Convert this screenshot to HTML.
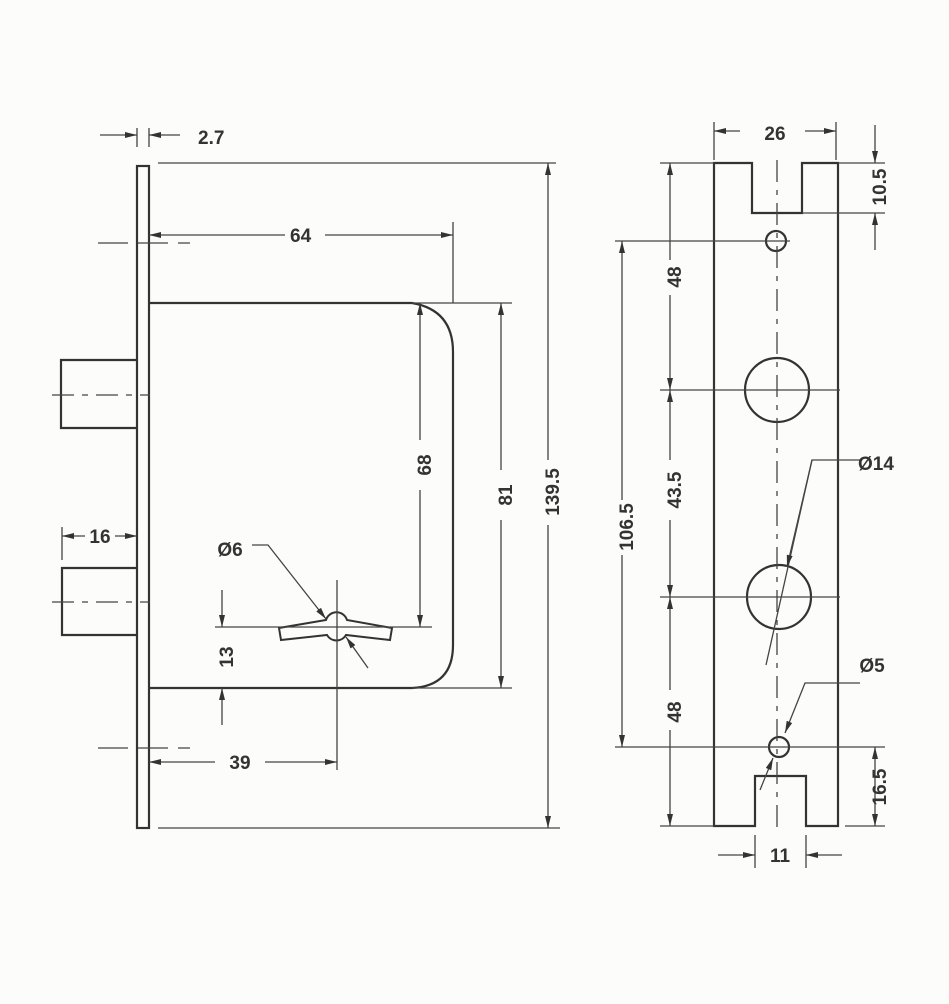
<!DOCTYPE html>
<html><head><meta charset="utf-8"><style>
html,body{margin:0;padding:0;background:#fcfcfb;}
svg{display:block}
text{font-family:"Liberation Sans",sans-serif;font-weight:bold;font-size:19px;fill:#333;}
</style></head><body>
<svg width="949" height="1004" viewBox="0 0 949 1004" xmlns="http://www.w3.org/2000/svg">
<defs>
<marker id="a" viewBox="0 0 12 6" refX="12" refY="3" markerWidth="12" markerHeight="6" orient="auto-start-reverse" markerUnits="userSpaceOnUse">
<path d="M0,0 L12,3 L0,6 z" fill="#333"/></marker>
</defs>
<g stroke="#333" fill="none" stroke-width="2.2">
<!-- faceplate -->
<rect x="137" y="166" width="12" height="662"/>
<!-- case -->
<path d="M149,303 H412 Q453,310 453,352 V645 Q453,686 412,688 H149"/>
<!-- bolts -->
<path d="M137,360 H61 V428 H137"/>
<path d="M137,568 H62 V635 H137"/>
<!-- keyhole -->
<path d="M326,620 A11,11 0 0 1 347,620 L392,628 L390,640 L346,635 A11,11 0 0 1 327,635 L281,640 L279,628 Z" stroke-width="2"/>
<!-- right view -->
<path d="M714,163 H752 V213 H802 V163 H838 V826 H806 V776 H755 V826 H714 Z"/>
<circle cx="776" cy="241" r="10"/>
<circle cx="777" cy="390" r="32"/>
<circle cx="779" cy="597" r="32"/>
<circle cx="779" cy="747" r="10"/>
</g>
<g stroke="#444" fill="none" stroke-width="1.3">
<!-- centerlines -->
<path d="M52,395 H150 M52,602 H150" stroke-dasharray="22,8,6,8"/>
<path d="M98,243 H190 M98,748 H190" stroke-dasharray="30,10"/>
<path d="M777,160 V830" stroke-dasharray="22,8,5,8"/>
<!-- 2.7 -->
<path d="M137,128 V147 M149,128 V147"/>
<path d="M100,135 H137" marker-end="url(#a)"/>
<path d="M180,135 H149" marker-end="url(#a)"/>
<!-- 64 -->
<path d="M453,222 V303"/>
<path d="M285,235 H149" marker-end="url(#a)"/>
<path d="M325,235 H453" marker-end="url(#a)"/>
<!-- 68 -->
<path d="M420,440 V303" marker-end="url(#a)"/>
<path d="M420,490 V627" marker-end="url(#a)"/>
<path d="M215,627 H432"/>
<!-- 81 -->
<path d="M412,303 H512 M412,688 H512"/>
<path d="M501,470 V303" marker-end="url(#a)"/>
<path d="M501,520 V688" marker-end="url(#a)"/>
<!-- 139.5 -->
<path d="M158,163 H556 M158,828 H560"/>
<path d="M548,460 V163" marker-end="url(#a)"/>
<path d="M548,525 V828" marker-end="url(#a)"/>
<!-- 13 -->
<path d="M222,590 V627" marker-end="url(#a)"/>
<path d="M222,725 V688" marker-end="url(#a)"/>
<!-- 39 -->
<path d="M337,580 V770"/>
<path d="M215,762 H149" marker-end="url(#a)"/>
<path d="M265,762 H337" marker-end="url(#a)"/>
<!-- 16 -->
<path d="M62,527 V560"/>
<path d="M85,536 H62" marker-end="url(#a)"/>
<path d="M115,536 H137" marker-end="url(#a)"/>
<!-- Ø6 -->
<path d="M252,545 H268 L326,619" marker-end="url(#a)"/>
<path d="M368,668 L346,637" marker-end="url(#a)"/>
<!-- right dims -->
<path d="M714,122 V160 M836,122 V160"/>
<path d="M740,131 H714" marker-end="url(#a)"/>
<path d="M805,131 H836" marker-end="url(#a)"/>
<path d="M660,163 H714 M802,213 H885 M838,163 H885"/>
<path d="M875,125 V163" marker-end="url(#a)"/>
<path d="M875,250 V213" marker-end="url(#a)"/>
<path d="M615,241 H790 M660,390 H840 M660,597 H840 M615,747 H885 M660,826 H714 M845,826 H885"/>
<path d="M875,790 V747" marker-end="url(#a)"/>
<path d="M875,826 V826"/>
<path d="M875,790 V826" marker-end="url(#a)"/>
<path d="M622,500 V241" marker-end="url(#a)"/>
<path d="M622,555 V747" marker-end="url(#a)"/>
<path d="M670,260 V163" marker-end="url(#a)"/>
<path d="M670,295 V390" marker-end="url(#a)"/>
<path d="M670,460 V390" marker-end="url(#a)"/>
<path d="M670,520 V597" marker-end="url(#a)"/>
<path d="M670,690 V597" marker-end="url(#a)"/>
<path d="M670,730 V826" marker-end="url(#a)"/>
<path d="M755,835 V868 M806,835 V868"/>
<path d="M718,855 H755" marker-end="url(#a)"/>
<path d="M842,855 H806" marker-end="url(#a)"/>
<!-- Ø14 leader -->
<path d="M860,460 H812 L766,665"/>
<path d="M812,460 L787,567" marker-end="url(#a)"/>
<!-- Ø5 leader -->
<path d="M860,683 H805 L785,733" marker-end="url(#a)"/>
<path d="M760,790 L773,758" marker-end="url(#a)"/>
</g>
<g>
<text x="198" y="144">2.7</text>
<text x="290" y="242">64</text>
<text x="100" y="543" text-anchor="middle">16</text>
<text x="230" y="556" text-anchor="middle">Ø6</text>
<text x="240" y="769" text-anchor="middle">39</text>
<text x="775" y="140" text-anchor="middle">26</text>
<text x="780" y="862" text-anchor="middle">11</text>
<text x="876" y="470" text-anchor="middle">Ø14</text>
<text x="872" y="672" text-anchor="middle">Ø5</text>
<text transform="translate(431,465) rotate(-90)" text-anchor="middle">68</text>
<text transform="translate(512,495) rotate(-90)" text-anchor="middle">81</text>
<text transform="translate(559,492) rotate(-90)" text-anchor="middle">139.5</text>
<text transform="translate(233,657) rotate(-90)" text-anchor="middle">13</text>
<text transform="translate(633,527) rotate(-90)" text-anchor="middle">106.5</text>
<text transform="translate(681,277) rotate(-90)" text-anchor="middle">48</text>
<text transform="translate(681,490) rotate(-90)" text-anchor="middle">43.5</text>
<text transform="translate(681,712) rotate(-90)" text-anchor="middle">48</text>
<text transform="translate(886,187) rotate(-90)" text-anchor="middle">10.5</text>
<text transform="translate(886,787) rotate(-90)" text-anchor="middle">16.5</text>
</g>
</svg>
</body></html>
